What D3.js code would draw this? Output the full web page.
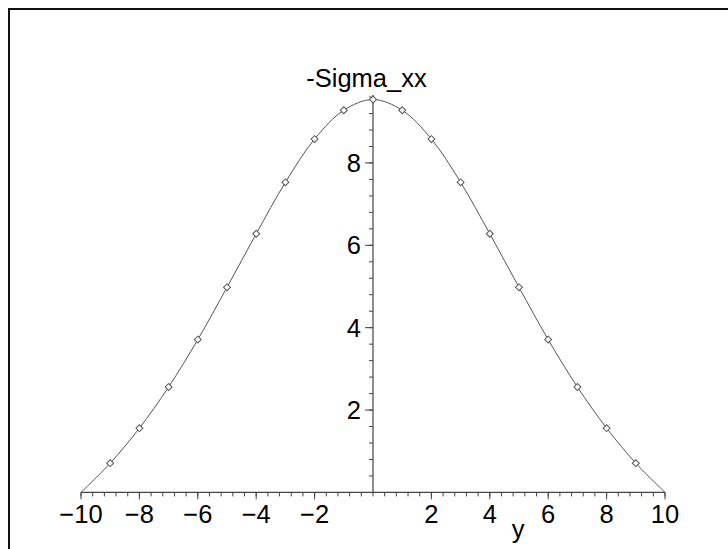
<!DOCTYPE html>
<html>
<head>
<meta charset="utf-8">
<script src="https://cdn.jsdelivr.net/npm/d3@7"></script>
<style>
  html, body { margin: 0; padding: 0; background: #fff; }
  svg { display: block; }
  text { font-family: "Liberation Sans", Arial, sans-serif; fill: #000; }
</style>
</head>
<body>
<svg id="chart" width="728" height="549"></svg>
<script>
// Sampled stress profile -Sigma_xx along y
const yPositions = [-10, -9, -8, -7, -6, -5, -4, -3, -2, -1, 0, 1, 2, 3, 4, 5, 6, 7, 8, 9, 10];
const sigmaValues = [0, 0.71, 1.56, 2.56, 3.71, 4.98, 6.28, 7.53, 8.58, 9.28, 9.54,
                     9.28, 8.58, 7.53, 6.28, 4.98, 3.71, 2.56, 1.56, 0.71, 0];
const xTickLabels = [-10, -8, -6, -4, -2, 2, 4, 6, 8, 10];
const yTickLabels = [2, 4, 6, 8];
const titleText = "-Sigma_xx";
const xAxisTitle = "y";

const svg = d3.select("#chart");
const fontSize = 25.5;

// frame around the plot window
svg.append("rect")
  .attr("x", 9).attr("y", 9)
  .attr("width", 740).attr("height", 560)
  .attr("fill", "none").attr("stroke", "#111").attr("stroke-width", 2);

const x = d3.scaleLinear().domain([-10, 10]).range([81, 665]);
const y = d3.scaleLinear().domain([0, 9.65]).range([492.4, 95]);

const axisColor = "#444";
const minorX = d3.range(-10, 10.001, 0.4).map(v => +v.toFixed(2));
const minorY = d3.range(0.4, 9.601, 0.4).map(v => +v.toFixed(2));

// horizontal axis through zero
const gx = svg.append("g").attr("transform", `translate(0,${y(0)})`);
gx.append("line").attr("x1", x(-10)).attr("x2", x(10))
  .attr("stroke", axisColor).attr("stroke-width", 1.2);
gx.selectAll("line.minor").data(minorX).join("line")
  .attr("class", "minor")
  .attr("x1", d => x(d)).attr("x2", d => x(d))
  .attr("y1", 0).attr("y2", 4)
  .attr("stroke", axisColor).attr("stroke-width", 1);
gx.selectAll("line.major").data(xTickLabels).join("line")
  .attr("class", "major")
  .attr("x1", d => x(d)).attr("x2", d => x(d))
  .attr("y1", 0).attr("y2", 7)
  .attr("stroke", axisColor).attr("stroke-width", 1);
gx.selectAll("text").data(xTickLabels).join("text")
  .attr("x", d => x(d)).attr("y", 31)
  .attr("text-anchor", "middle")
  .attr("font-size", fontSize)
  .text(d => (d < 0 ? "\u2212" + Math.abs(d) : String(d)));

// vertical axis through zero
const gy = svg.append("g").attr("transform", `translate(${x(0)},0)`);
gy.append("line").attr("y1", y(0)).attr("y2", y(9.65))
  .attr("stroke", axisColor).attr("stroke-width", 1.2);
gy.selectAll("line.minor").data(minorY).join("line")
  .attr("class", "minor")
  .attr("y1", d => y(d)).attr("y2", d => y(d))
  .attr("x1", -4).attr("x2", 0)
  .attr("stroke", axisColor).attr("stroke-width", 1);
gy.selectAll("line.major").data(yTickLabels).join("line")
  .attr("class", "major")
  .attr("y1", d => y(d)).attr("y2", d => y(d))
  .attr("x1", -8).attr("x2", 0)
  .attr("stroke", axisColor).attr("stroke-width", 1);
gy.selectAll("text").data(yTickLabels).join("text")
  .attr("x", -12).attr("y", d => y(d))
  .attr("dy", "0.35em")
  .attr("text-anchor", "end")
  .attr("font-size", fontSize)
  .text(d => d);

// smooth curve through the samples
const line = d3.line()
  .x((d, i) => x(yPositions[i]))
  .y(d => y(d))
  .curve(d3.curveCatmullRom.alpha(0.5));
svg.append("path")
  .datum(sigmaValues)
  .attr("d", line)
  .attr("fill", "none")
  .attr("stroke", "#555")
  .attr("stroke-width", 1);

// diamond markers at each sample
const diamond = d3.symbol().type(d3.symbolSquare).size(24);
svg.selectAll("path.pt").data(sigmaValues.slice(1, -1)).join("path")
  .attr("class", "pt")
  .attr("d", diamond)
  .attr("transform", (d, i) => `translate(${x(yPositions[i + 1])},${y(d)}) rotate(45)`)
  .attr("fill", "#fff")
  .attr("stroke", "#555")
  .attr("stroke-width", 1);

// titles
svg.append("text")
  .attr("x", 366.5).attr("y", 87)
  .attr("text-anchor", "middle")
  .attr("font-size", fontSize)
  .text(titleText);
svg.append("text")
  .attr("x", 518).attr("y", 538)
  .attr("text-anchor", "middle")
  .attr("font-size", fontSize)
  .text(xAxisTitle);
</script>
</body>
</html>
